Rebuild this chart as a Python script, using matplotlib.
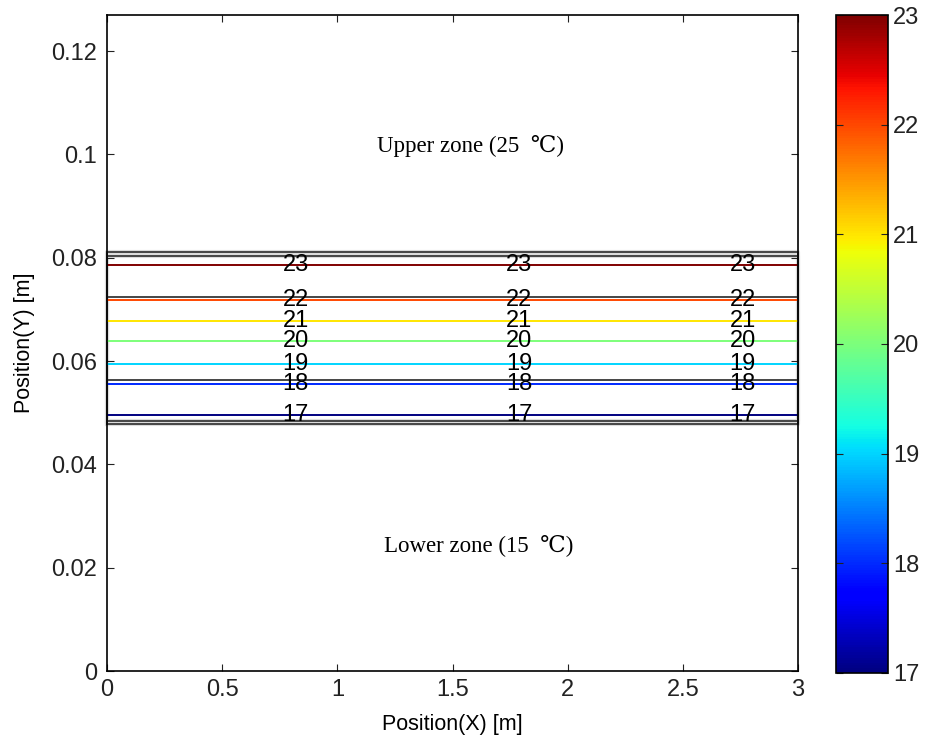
import numpy as np
import matplotlib
matplotlib.use("Agg")
import matplotlib.pyplot as plt
from matplotlib.ticker import FormatStrFormatter

plt.rcParams['font.family'] = ['Liberation Sans', 'DejaVu Sans']

# Temperature profile read across the layer (position y [m] -> T [C])
y_samples = [0.0, 0.0495, 0.0555, 0.0594, 0.0639, 0.0678, 0.0719, 0.0786, 0.127]
t_samples = [15, 17, 18, 19, 20, 21, 22, 23, 25]
x_samples = [0.0, 3.0]
levels = [17, 18, 19, 20, 21, 22, 23]

# label x positions along each contour
label_x = [0.82, 1.79, 2.76]

# gray outlines of the sample layer
box_outer = (0.0478, 0.0812)
box_inner = (0.0484, 0.0804)
inner_lines = [0.0564, 0.0724]

X, Y = np.meshgrid(x_samples, y_samples)
T = np.tile(np.array(t_samples, dtype=float)[:, None], (1, len(x_samples)))

fig = plt.figure(figsize=(9.25, 7.45), dpi=100)
ax = fig.add_axes([107 / 925, 74 / 745, 691 / 925, 656 / 745])

# gray boxes (light halo + dark line)
for lo, hi in [box_outer, box_inner]:
    ax.plot([0, 3, 3, 0, 0], [lo, lo, hi, hi, lo], color='#dcdcdc', lw=3.0, clip_on=False, zorder=1)
for lo, hi in [box_outer, box_inner]:
    ax.plot([0, 3, 3, 0, 0], [lo, lo, hi, hi, lo], color='#454545', lw=1.4, clip_on=False, zorder=1)
for yl in inner_lines:
    ax.plot([0, 3], [yl, yl], color='#454545', lw=1.4, zorder=1)

cs = ax.contour(X, Y, T, levels=levels, cmap='jet', vmin=17, vmax=23, linewidths=1.4, zorder=2)
manual = [(xl, y) for y in y_samples[1:-1] for xl in label_x]
ax.clabel(cs, levels=levels, inline=False, fontsize=17, colors='black', fmt='%d', manual=manual)

ax.text(1.58, 0.1016, 'Upper zone (25  ℃)', ha='center', va='center', fontsize=16.5,
        family=['Liberation Serif', 'DejaVu Serif'])
ax.text(1.615, 0.0243, 'Lower zone (15  ℃)', ha='center', va='center', fontsize=16.5,
        family=['Liberation Serif', 'DejaVu Serif'])

ax.set_xlim(0, 3)
ax.set_ylim(0, 0.127)
ax.set_xticks(np.arange(0, 3.01, 0.5))
ax.set_yticks(np.arange(0, 0.121, 0.02))
ax.xaxis.set_major_formatter(FormatStrFormatter('%g'))
ax.yaxis.set_major_formatter(FormatStrFormatter('%g'))
ax.tick_params(direction='in', top=True, right=True, labelsize=17, length=5, colors='#222222')
ax.tick_params(axis='x', pad=6)
ax.tick_params(axis='y', pad=7)
ax.set_xlabel('Position(X) [m]', fontsize=15.5, labelpad=9)
ax.set_ylabel('Position(Y) [m]', fontsize=15.5, labelpad=12)
for s in ax.spines.values():
    s.set_linewidth(1.2)

cax = fig.add_axes([836 / 925, 72 / 745, 52 / 925, 658 / 745])
sm = plt.cm.ScalarMappable(norm=plt.Normalize(17, 23), cmap='jet')
cb = fig.colorbar(sm, cax=cax, ticks=levels)
cax.tick_params(direction='in', left=True, right=True, labelsize=17, length=5, colors='#222222')
cb.outline.set_linewidth(1.2)

fig.savefig('out.png', dpi=100)
